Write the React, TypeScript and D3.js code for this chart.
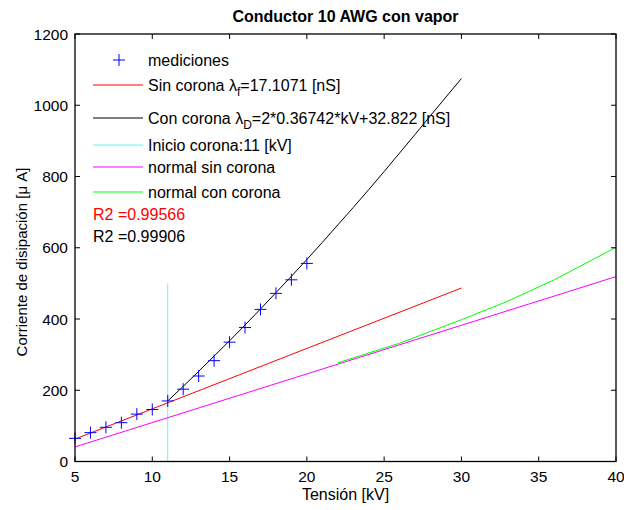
import React from "react";
import * as d3 from "d3";

const xTicks = [5, 10, 15, 20, 25, 30, 35, 40];
const yTicks = [0, 200, 400, 600, 800, 1000, 1200];

const measV = [5, 6, 7, 8, 9, 10, 11, 12, 13, 14, 15, 16, 17, 18, 19, 20];
const measI = [65, 81, 96, 109, 133, 146, 170, 203, 240, 283, 335, 376, 427, 472, 510, 556];

const sinCoronaV = [5, 30];
const sinCoronaI = [63, 487];

const conCoronaV = [11, 12, 13, 14, 15, 16, 17, 18, 19, 20, 21, 22, 23, 24, 25, 26, 27, 28, 29, 30];
const conCoronaI = [170, 211, 253, 296, 339, 383, 428, 474, 520, 567, 615, 664, 713, 763, 814, 866, 918, 971, 1023, 1075];

const inicioV = [11, 11];
const inicioI = [0, 500];

const normalSinV = [5, 40];
const normalSinI = [41, 519];

const normalConV = [22, 26, 30, 33, 36, 40];
const normalConI = [277, 332, 398, 450, 510, 601];

const W = 624;
const H = 510;
const left = 75, right = 616, top = 34, bottom = 461.5;
const FONT = "'Liberation Sans', Arial, sans-serif";

export default function App() {
  const x = d3.scaleLinear().domain([5, 40]).range([left, right]);
  const y = d3.scaleLinear().domain([0, 1200]).range([bottom, top]);
  const line = d3.line<[number, number]>().x((d) => x(d[0])).y((d) => y(d[1]));
  const pts = (vs: number[], is: number[]) => vs.map((v, i) => [v, is[i]] as [number, number]);

  const series = [
    { v: sinCoronaV, i: sinCoronaI, c: "#ff0000" },
    { v: conCoronaV, i: conCoronaI, c: "#000000" },
    { v: inicioV, i: inicioI, c: "#66f2f2" },
    { v: normalSinV, i: normalSinI, c: "#ff00ff" },
    { v: normalConV, i: normalConI, c: "#00ff00" },
  ];

  const tl = 5;
  const plus = (cx: number, cy: number, k: string) => (
    <g key={k} stroke="#0000ff" strokeWidth={1}>
      <line x1={cx - 6} x2={cx + 6} y1={cy} y2={cy} />
      <line x1={cx} x2={cx} y1={cy - 6} y2={cy + 6} />
    </g>
  );

  const legendLines = [
    { y: 85, c: "#ff0000" },
    { y: 118, c: "#000000" },
    { y: 145, c: "#66f2f2" },
    { y: 167, c: "#ff00ff" },
    { y: 192, c: "#00ff00" },
  ];

  return (
    <svg width={W} height={H} style={{ position: "absolute", left: 0, top: 0, background: "#fff" }} fontFamily={FONT}>
      <rect x={0} y={0} width={W} height={H} fill="#fff" />
      {series.map((s, k) => (
        <path key={k} d={line(pts(s.v, s.i)) || ""} fill="none" stroke={s.c} strokeWidth={1} />
      ))}
      {measV.map((v, k) => plus(x(v), y(measI[k]), "m" + k))}

      <rect x={left} y={top} width={right - left} height={bottom - top} fill="none" stroke="#000" strokeWidth={1.3} />
      {xTicks.map((t) => (
        <g key={"xt" + t}>
          <line x1={x(t)} x2={x(t)} y1={bottom} y2={bottom - tl} stroke="#000" />
          <line x1={x(t)} x2={x(t)} y1={top} y2={top + tl} stroke="#000" />
          <text x={x(t)} y={482} textAnchor="middle" fontSize={15.5} fill="#000">{t}</text>
        </g>
      ))}
      {yTicks.map((t) => (
        <g key={"yt" + t}>
          <line x1={left} x2={left + tl} y1={y(t)} y2={y(t)} stroke="#000" />
          <line x1={right} x2={right - tl} y1={y(t)} y2={y(t)} stroke="#000" />
          <text x={68} y={y(t)} dy="0.36em" textAnchor="end" fontSize={15.5} fill="#000">{t}</text>
        </g>
      ))}

      <text x={(left + right) / 2} y={22} textAnchor="middle" fontSize={16} fontWeight="bold" fill="#000">
        Conductor 10 AWG con vapor
      </text>
      <text x={(left + right) / 2} y={500} textAnchor="middle" fontSize={16} fill="#000">
        Tensión [kV]
      </text>
      <text transform={`translate(22,262) rotate(-90)`} textAnchor="middle" dy="0.36em" fontSize={15} fill="#000">
        Corriente de disipación [μ A]
      </text>

      {plus(119, 60, "leg")}
      {legendLines.map((l, k) => (
        <line key={"ll" + k} x1={93} x2={143} y1={l.y} y2={l.y} stroke={l.c} strokeWidth={1} />
      ))}
      <g fontSize={16} fill="#000">
        <text x={148} y={60} dy="0.36em">mediciones</text>
        <text x={148} y={85} dy="0.36em">
          Sin corona λ<tspan dy={5} fontSize={12}>f</tspan><tspan dy={-5}>=17.1071 [nS]</tspan>
        </text>
        <text x={148} y={118} dy="0.36em">
          Con corona λ<tspan dy={5} fontSize={12}>D</tspan><tspan dy={-5}>=2*0.36742*kV+32.822 [nS]</tspan>
        </text>
        <text x={148} y={145} dy="0.36em">Inicio corona:11 [kV]</text>
        <text x={148} y={167} dy="0.36em">normal sin corona</text>
        <text x={148} y={192} dy="0.36em">normal con corona</text>
        <text x={93} y={214} dy="0.36em" fill="#ff0000">R2 =0.99566</text>
        <text x={93} y={236} dy="0.36em">R2 =0.99906</text>
      </g>
    </svg>
  );
}
